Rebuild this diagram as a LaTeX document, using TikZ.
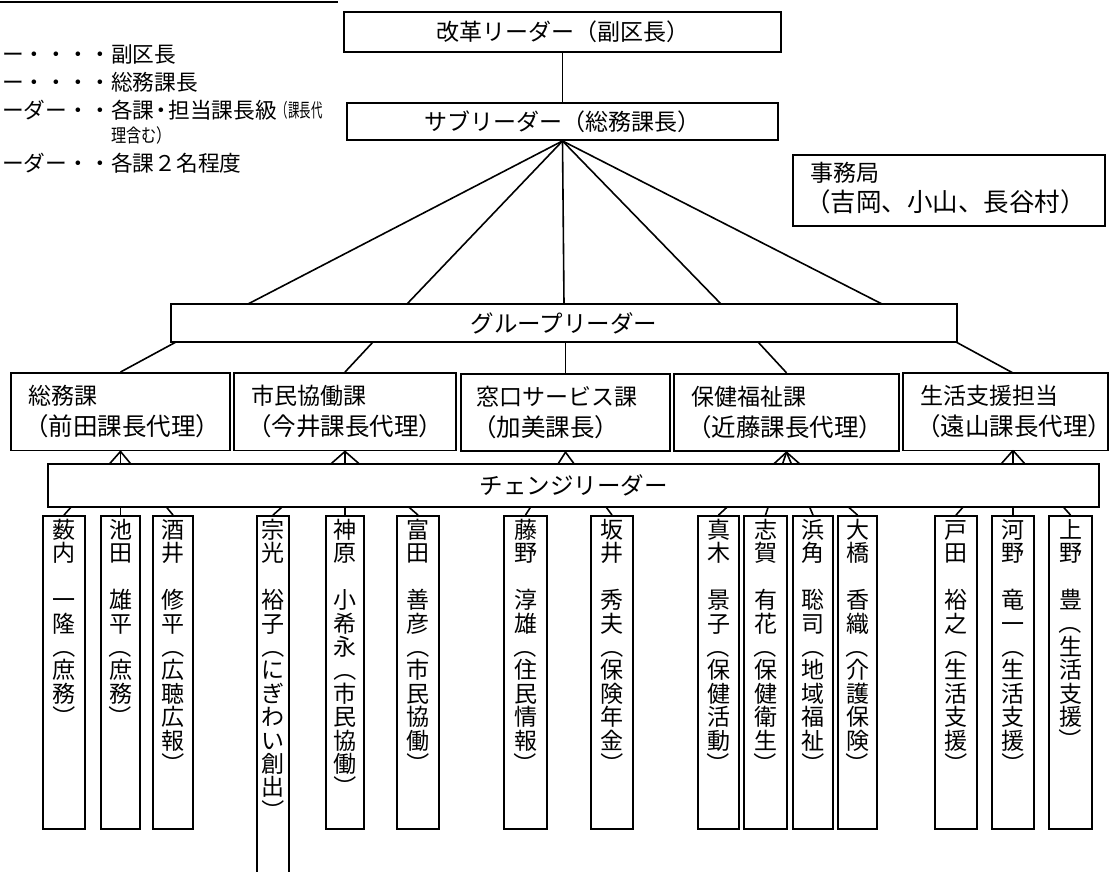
\documentclass[tikz,border=0pt]{standalone}
\usepackage{fontspec}
\setmainfont{Noto Sans CJK JP}
\usepackage{graphicx}
\newcommand{\vlp}{\rotatebox[origin=c]{-90}{（}}
\newcommand{\vrp}{\rotatebox[origin=c]{-90}{）}}
\newcommand{\fsb}[2]{\fontsize{#1}{#2}\selectfont}
\newcommand{\ltwo}[1]{{\fsb{24.5}{31}#1}}
\newcommand{\vs}{\rule{0pt}{20.2pt}}
\tikzset{
  box/.style={draw, line width=1.9pt, fill=white, inner sep=0pt},
  conn/.style={line width=1.6pt},
  txt/.style={inner sep=0pt},
  sect/.style={inner sep=0pt, anchor=west, align=left, font=\fsb{23}{31}},
  col/.style={inner sep=0pt, anchor=north, align=center, font={\fsb{23}{23.4}\lineskiplimit=-100pt\lineskip=0pt}},
  legend/.style={inner sep=0pt, font=\fsb{21.7}{21.7}, text height=19.1pt, text depth=2.6pt},
}
\newcommand{\member}[5]{%
  \node[box, minimum width=#3, minimum height=#4] (#1) at (#2,516+#4/2) {};
  \node[col] (#1t) at ([yshift=-3pt]#1.north) {#5};}
\begin{document}
\begin{tikzpicture}[x=1pt,y=-1pt]
\useasboundingbox (0,0) rectangle (1113,872);
\clip (0,0) rectangle (1113,872);

% legend fragment
\coordinate (lgA) at (0,2);
\coordinate (lgB) at (338,2);
\draw[line width=2.2pt] (lgA) -- (lgB);
\node[legend, anchor=east] (l1a) at (111,54) {ー・・・・};
\node[legend, anchor=west] (l1b) at (111,54) {副区長};
\node[legend, anchor=east] (l2a) at (111,82) {ー・・・・};
\node[legend, anchor=west] (l2b) at (111,82) {総務課長};
\node[legend, anchor=east] (l3a) at (111,110) {ーダー・・};
\node[legend, anchor=west] (l3b) at (111,110) {各課\kern-4pt・\kern-4pt担当課長級\raisebox{1.2pt}{\fsb{19}{19}\scalebox{0.6}[1]{（課長代}}};
\node[legend, anchor=west, font=\fsb{18.5}{18.5}, text height=16.3pt, text depth=2.2pt] (l3c) at (111,135) {\scalebox{0.82}[1]{理含む）}};
\node[legend, anchor=east] (l4a) at (111,163) {ーダー・・};
\node[legend, anchor=west] (l4b) at (111,163) {各課２名程度};

% top boxes
\node[box, minimum width=437, minimum height=40, font=\fsb{23}{23}] (kaikaku) at (562.5,32) {改革リーダー（副区長）};
\node[box, minimum width=431, minimum height=37, font=\fsb{23}{23}] (sub) at (562.5,121.5) {サブリーダー（総務課長）};
\node[box, minimum width=312, minimum height=71] (jim) at (949,190.5) {};
\node[txt, anchor=west, align=left, font=\fsb{23}{30}] (jimt) at ([xshift=13pt,yshift=2.5pt]jim.west) {\hspace*{5pt}事務局\\{\fsb{25.5}{30}（吉岡、小山、長谷村）}};

\node[box, minimum width=786, minimum height=38, font=\fsb{23.5}{23.5}] (grp) at (564,323) {グループリーダー};

% sections
\node[box, minimum width=219, minimum height=77.5] (s1) at (120.5,411.75) {};
\node[box, minimum width=222, minimum height=77.5] (s2) at (345,411.75) {};
\node[box, minimum width=209, minimum height=77.5] (s3) at (565.5,412.5) {};
\node[box, minimum width=225, minimum height=77.5] (s4) at (786.5,412.5) {};
\node[box, minimum width=205, minimum height=77.5] (s5) at (1005.5,411.75) {};
\node[sect] (s1t) at ([xshift=14pt]s1.west) {\hspace*{4pt}総務課\\\ltwo{（前田課長代理）}};
\node[sect] (s2t) at ([xshift=14pt]s2.west) {\hspace*{4pt}市民協働課\\\ltwo{（今井課長代理）}};
\node[sect] (s3t) at ([xshift=12pt]s3.west) {\hspace*{4pt}窓口サービス課\\\ltwo{（加美課長）}};
\node[sect] (s4t) at ([xshift=14pt]s4.west) {\hspace*{4pt}保健福祉課\\\ltwo{（近藤課長代理）}};
\node[sect] (s5t) at ([xshift=14pt]s5.west) {\hspace*{4pt}生活支援担当\\\ltwo{（遠山課長代理）}};

% members
\member{m1}{64}{42}{313}{\vs 薮\\内\\　\\一\\隆\\\vlp\\庶\\務\\\vrp}
\member{m2}{120.5}{39}{313}{\vs 池\\田\\　\\雄\\平\\\vlp\\庶\\務\\\vrp}
\member{m3}{173}{40}{313}{\vs 酒\\井\\　\\修\\平\\\vlp\\広\\聴\\広\\報\\\vrp}
\member{m4}{273}{32}{390}{\vs 宗\\光\\　\\裕\\子\\\vlp\\に\\ぎ\\わ\\い\\創\\出\\\vrp}
\member{m5}{345}{38}{313}{\vs 神\\原\\　\\小\\希\\永\\\vlp\\市\\民\\協\\働\\\vrp}
\member{m6}{418}{42}{313}{\vs 富\\田\\　\\善\\彦\\\vlp\\市\\民\\協\\働\\\vrp}
\member{m7}{525.5}{43}{313}{\vs 藤\\野\\　\\淳\\雄\\\vlp\\住\\民\\情\\報\\\vrp}
\member{m8}{612}{42}{313}{\vs 坂\\井\\　\\秀\\夫\\\vlp\\保\\険\\年\\金\\\vrp}
\member{m9}{718.5}{41}{313}{\vs 真\\木\\　\\景\\子\\\vlp\\保\\健\\活\\動\\\vrp}
\member{m10}{765.5}{43}{313}{\vs 志\\賀\\　\\有\\花\\\vlp\\保\\健\\衛\\生\\\vrp}
\member{m11}{813}{40}{313}{\vs 浜\\角\\　\\聡\\司\\\vlp\\地\\域\\福\\祉\\\vrp}
\member{m12}{857.5}{39}{313}{\vs 大\\橋\\　\\香\\織\\\vlp\\介\\護\\保\\険\\\vrp}
\member{m13}{956}{42}{313}{\vs 戸\\田\\　\\裕\\之\\\vlp\\生\\活\\支\\援\\\vrp}
\member{m14}{1013}{42}{313}{\vs 河\\野\\　\\竜\\一\\\vlp\\生\\活\\支\\援\\\vrp}
\member{m15}{1070.5}{43}{313}{\vs 上\\野\\　\\豊\\\vlp\\生\\活\\支\\援\\\vrp}

% connectors
\draw[conn] (kaikaku.south) -- (sub.north);
\coordinate (f1) at (248,304);
\coordinate (f2) at (407,304);
\coordinate (f3) at (564,304);
\coordinate (f4) at (721,304);
\coordinate (f5) at (882,304);
\foreach \i in {1,...,5} \draw[conn] (sub.south) -- (f\i);
\coordinate (g1) at (176,342);
\coordinate (g2) at (373,342);
\coordinate (g3) at (565.5,342);
\coordinate (g4) at (758,342);
\coordinate (g5) at (956,342);
\coordinate (s5top) at (1013,373);
\coordinate (s5bot) at (1013,450.5);
\draw[conn] (g1) -- (s1.north);
\draw[conn] (g2) -- (s2.north);
\draw[conn] (g3) -- (s3.north);
\draw[conn] (g4) -- (s4.north);
\draw[conn] (g5) -- (s5top);
\foreach \m in {m1,m2,m3} \draw[conn] (s1.south) -- (\m.north);
\foreach \m in {m4,m5,m6} \draw[conn] (s2.south) -- (\m.north);
\foreach \m in {m7,m8} \draw[conn] (s3.south) -- (\m.north);
\foreach \m in {m9,m10,m11,m12} \draw[conn] (s4.south) -- (\m.north);
\foreach \m in {m13,m14,m15} \draw[conn] (s5bot) -- (\m.north);

% change leader bar on top of connectors
\node[box, minimum width=1051, minimum height=43, font=\fsb{23.5}{23.5}] (chg) at (573.5,485.5) {チェンジリーダー};
\end{tikzpicture}
\end{document}
